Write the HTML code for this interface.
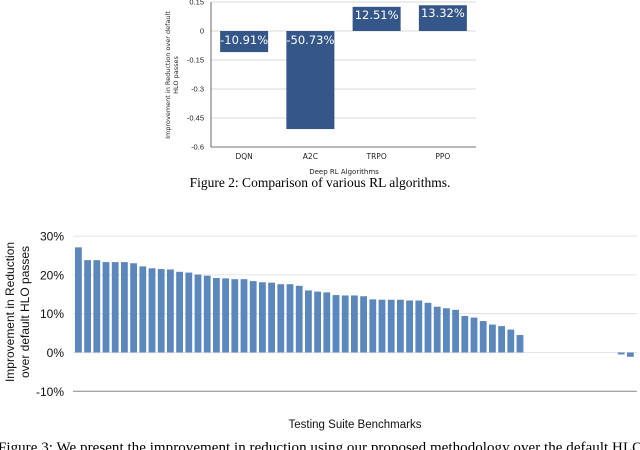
<!DOCTYPE html>
<html><head><meta charset="utf-8"><style>
html,body{margin:0;padding:0;background:#fff;width:640px;height:450px;overflow:hidden}
svg{display:block}
</style></head><body>
<svg id="root" width="640" height="450" xmlns="http://www.w3.org/2000/svg">
<g id="fig2"></g>
<g id="fig3"></g>
<text x="320" y="187" text-anchor="middle" font-family="Liberation Serif, serif" font-size="13.5" fill="#000">Figure 2: Comparison of various RL algorithms.</text>
<text x="-2" y="452" font-family="Liberation Serif, serif" font-size="15" fill="#000" textLength="645">Figure 3: We present the improvement in reduction using our proposed methodology over the default HLO</text>
</svg>
<script>
// Figure 2 data
const f2Categories = ["DQN","A2C","TRPO","PPO"];
const f2Values = [-0.1091,-0.5073,0.1251,0.1332];
const f2Labels = ["-10.91%","-50.73%","12.51%","13.32%"];
const f2Ticks = [0.15,0,-0.15,-0.3,-0.45,-0.6];
const f2TickLabels = ["0.15","0","-0.15","-0.3","-0.45","-0.6"];
// Figure 3 data
const f3Values = [27.1,23.8,23.8,23.3,23.3,23.3,23.0,22.2,21.7,21.5,21.4,20.8,20.6,20.1,19.8,19.2,19.1,18.9,18.9,18.4,18.1,18.0,17.6,17.6,17.2,16.0,15.7,15.5,14.8,14.7,14.7,14.5,13.7,13.6,13.6,13.6,13.4,13.4,12.8,11.8,11.4,11.0,9.4,9.0,8.1,7.2,6.8,5.9,4.5,0,0,0,0,0,0,0,0,0,0,-0.5,-1.1];
const f3Ticks = [30,20,10,0,-10];
const f3TickLabels = ["30%","20%","10%","0%","-10%"];

const NS="http://www.w3.org/2000/svg";
function mk(parent,tag,attrs,text){const e=document.createElementNS(NS,tag);for(const k in attrs)e.setAttribute(k,attrs[k]);if(text!==undefined)e.textContent=text;parent.appendChild(e);return e;}

// ---- Figure 2 ----
const g2=document.getElementById('fig2');
const y2=v=>31-(v/0.15)*29;
const x2L=211,x2R=476,band2=(x2R-x2L)/4;
const x2=i=>x2L+band2*i+band2/2;
f2Ticks.forEach((t,i)=>{
  if(t!==-0.6){const l=mk(g2,'line',{x1:x2L,x2:x2R,y1:y2(t),y2:y2(t),stroke:'#d9d9d9','stroke-width':1});
  
  }
  const tx=mk(g2,'text',{x:204,y:y2(t)+2.5,'text-anchor':'end','font-family':'Liberation Sans, sans-serif','font-size':7.5,fill:'#222'},f2TickLabels[i]);
  
  
});
f2Values.forEach((v,i)=>{
  const top=Math.min(y2(v),y2(0)),h=Math.abs(y2(v)-y2(0));
  const r=mk(g2,'rect',{x:x2(i)-24,y:top,width:48,height:h,fill:'#355689'});
  
  
  const ly=v<0?y2(0)+13:y2(v)+12;
  const lb=mk(g2,'text',{x:x2(i),y:ly,'text-anchor':'middle','font-family':'DejaVu Sans, sans-serif','font-size':11.5,fill:'#fff'},f2Labels[i]);
  
  
  const cl=mk(g2,'text',{x:x2(i),y:159,'text-anchor':'middle','font-family':'DejaVu Sans, sans-serif','font-size':7.5,fill:'#222'},f2Categories[i]);
  
  
});
let ax=mk(g2,'line',{x1:x2L,x2:x2L,y1:2,y2:147,stroke:'#444','stroke-width':0.8});


ax=mk(g2,'line',{x1:x2L,x2:x2R,y1:147,y2:147,stroke:'#444','stroke-width':0.8});


let t=mk(g2,'text',{x:344,y:174,'text-anchor':'middle','font-family':'DejaVu Sans, sans-serif','font-size':7,fill:'#222'},'Deep RL Algorithms');


t=mk(g2,'text',{transform:'translate(170,75) rotate(-90)','text-anchor':'middle','font-family':'DejaVu Sans, sans-serif','font-size':6.5,fill:'#222'},'Improvement in Reduction over default');


t=mk(g2,'text',{transform:'translate(178,75) rotate(-90)','text-anchor':'middle','font-family':'DejaVu Sans, sans-serif','font-size':6.5,fill:'#222'},'HLO passes');



// ---- Figure 3 ----
const g3=document.getElementById('fig3');
const y3=v=>352.5-v*3.88;
const x3L=73,x3R=637,pitch=9.2;
const x3=i=>75+pitch*i;
f3Ticks.forEach((tk,i)=>{
  const l=mk(g3,'line',{x1:x3L,x2:x3R,y1:y3(tk),y2:y3(tk),stroke:tk===-10?'#888':'#dcdcdc','stroke-width':tk===-10?1:0.8});
  
  
  const tx=mk(g3,'text',{x:64,y:y3(tk)+4.5,'text-anchor':'end','font-family':'Liberation Sans, sans-serif','font-size':12,fill:'#111'},f3TickLabels[i]);
  
  
});
f3Values.forEach((v,i)=>{
  if(v===0)return;
  const top=Math.min(y3(v),y3(0)),h=Math.abs(y3(v)-y3(0));
  const r=mk(g3,'rect',{x:x3(i),y:top,width:6.8,height:h,fill:'#5b87bd'});
  
  
});
t=mk(g3,'text',{x:355,y:428,'text-anchor':'middle','font-family':'Liberation Sans, sans-serif','font-size':11.5,fill:'#111'},'Testing Suite Benchmarks');


t=mk(g3,'text',{transform:'translate(14,312) rotate(-90)','text-anchor':'middle','font-family':'Liberation Sans, sans-serif','font-size':12,fill:'#111'},'Improvement in Reduction');


t=mk(g3,'text',{transform:'translate(29,312) rotate(-90)','text-anchor':'middle','font-family':'Liberation Sans, sans-serif','font-size':12,fill:'#111'},'over default HLO passes');


</script>
</body></html>
